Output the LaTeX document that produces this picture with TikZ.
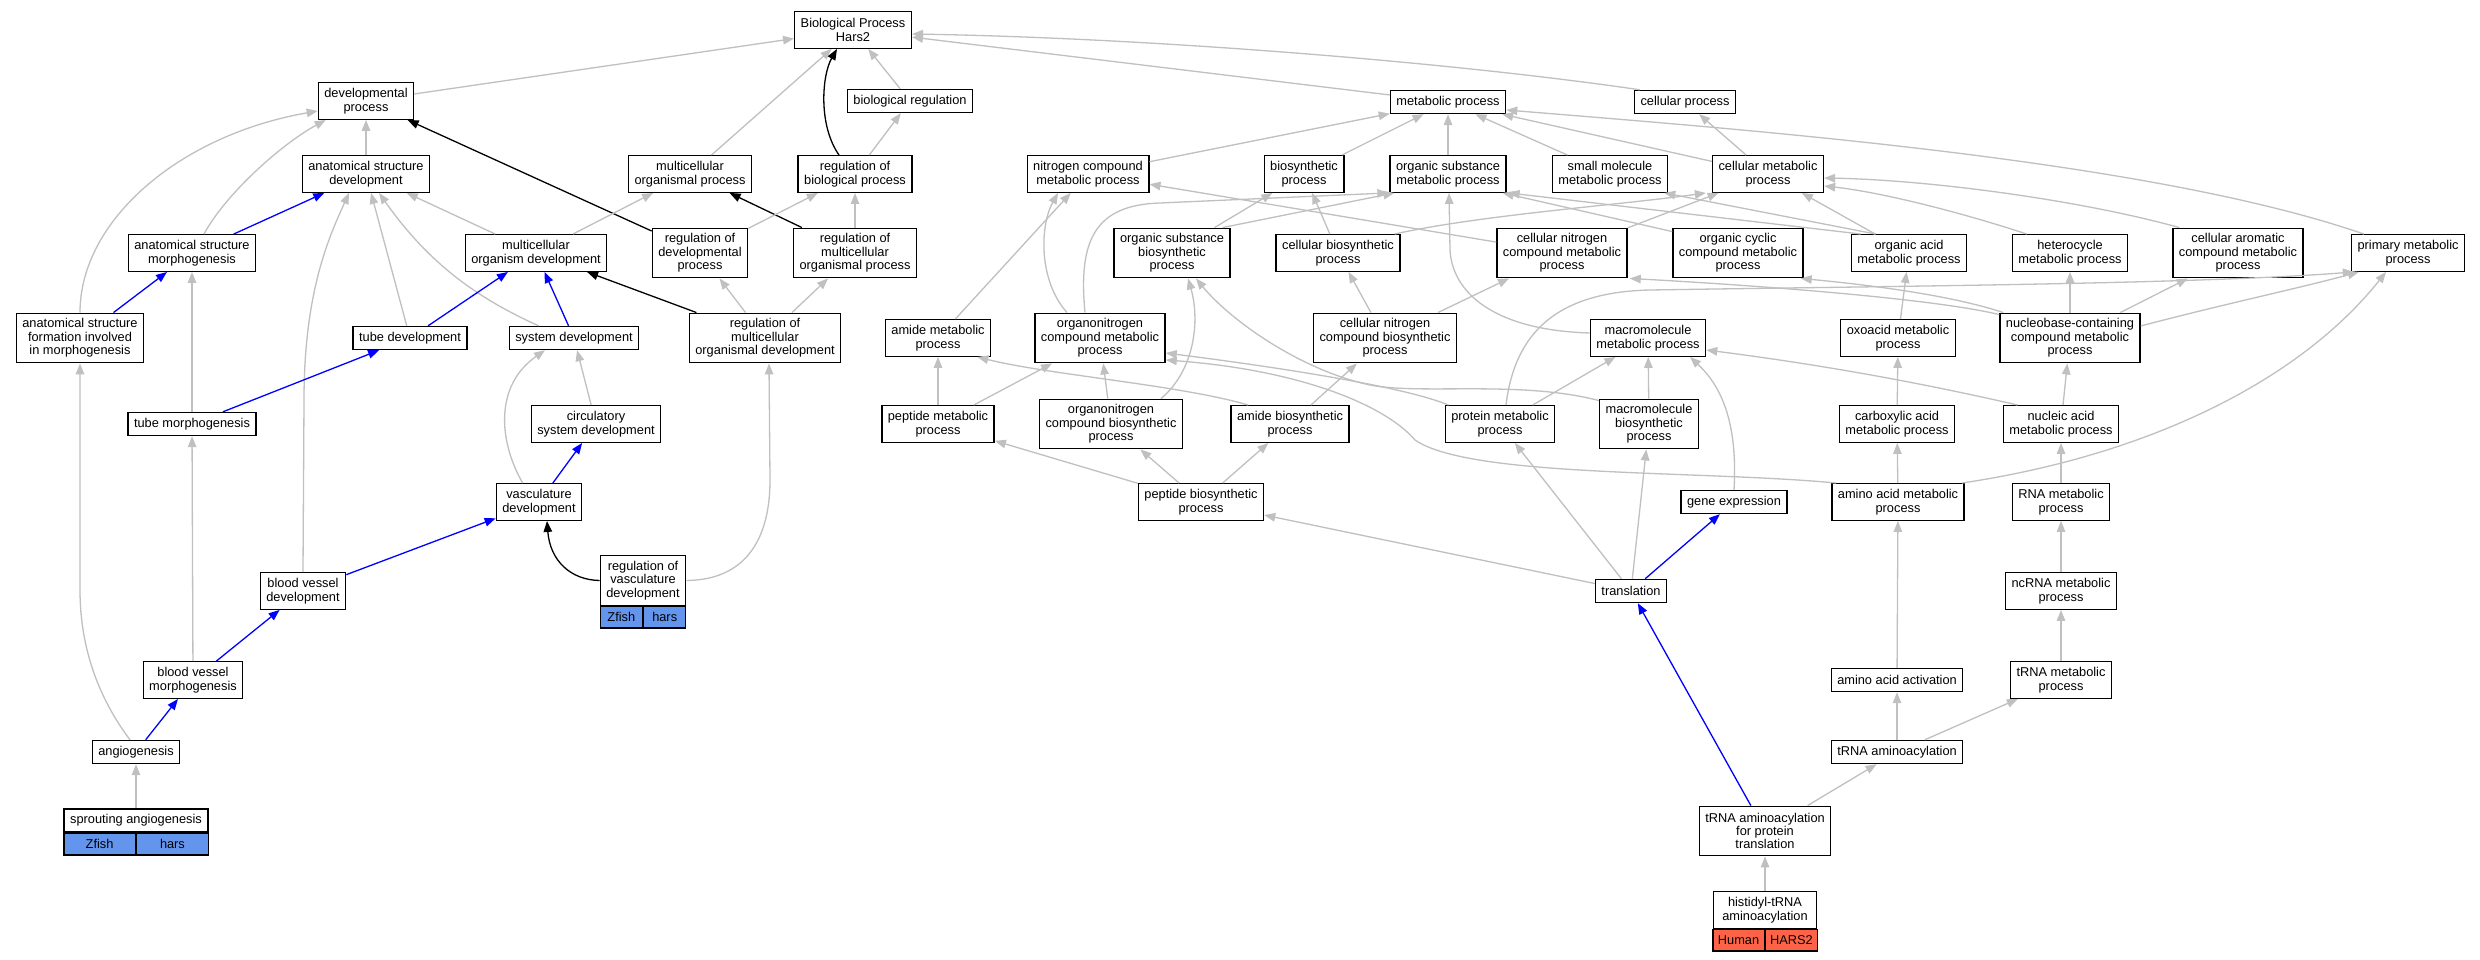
\documentclass[tikz,border=0pt]{standalone}
\usepackage{fontspec}
\setmainfont{Liberation Sans}
\usetikzlibrary{arrows.meta,calc}
\newcommand{\gvfont}{\fontsize{12.8pt}{13.4pt}\selectfont}
\definecolor{edgegray}{RGB}{192,192,192}
\definecolor{zfishc}{RGB}{100,149,237}
\definecolor{humanc}{RGB}{255,99,71}
\tikzset{
  gbox/.style={draw=black, line width=1.4pt, fill=white, inner xsep=6pt, inner ysep=2pt, align=center, font=\gvfont},
  l1/.style={gbox, minimum height=23pt},
  l2/.style={gbox, minimum height=36.5pt},
  l3/.style={gbox, minimum height=49.5pt},
  cellz/.style={draw=black, line width=1.4pt, fill=zfishc, inner sep=1pt, minimum height=21.5pt, font=\gvfont},
  cellh/.style={draw=black, line width=1.4pt, fill=humanc, inner sep=1pt, minimum height=21.5pt, font=\gvfont},
  ge/.style={draw=edgegray, line width=1.3pt, -{Triangle[length=11pt,width=8.5pt]}},
  be/.style={draw=blue, line width=1.3pt, -{Triangle[length=11pt,width=8.5pt]}},
  ke/.style={draw=black, line width=1.3pt, -{Triangle[length=11pt,width=8.5pt]}}
}
\begin{document}
\begin{tikzpicture}[x=1pt,y=-1pt]
\useasboundingbox (0,0) rectangle (2480,960);
\fill[white] (0,0) rectangle (2480,960);
% rank A
\node[l2] (bp) at (853,30) {Biological Process\\Hars2};
% rank B
\node[l2] (devp) at (366,101) {developmental\\process};
\node[l1] (breg) at (910,101) {biological regulation};
\node[l1] (metab) at (1448,102) {metabolic process};
\node[l1] (cellp) at (1685,102) {cellular process};
% rank C
\node[l2] (asd) at (366,174) {anatomical structure\\development};
\node[l2] (mop) at (690,174) {multicellular\\organismal process};
\node[l2] (rbp) at (855,174) {regulation of\\biological process};
\node[l2] (ncmp) at (1088,174) {nitrogen compound\\metabolic process};
\node[l2] (bios) at (1304,174) {biosynthetic\\process};
\node[l2] (osmp) at (1448,174) {organic substance\\metabolic process};
\node[l2] (smmp) at (1610,174) {small molecule\\metabolic process};
\node[l2] (cmp) at (1768,174) {cellular metabolic\\process};
% rank D
\node[l2] (asm) at (192,253) {anatomical structure\\morphogenesis};
\node[l2] (mod) at (536,253) {multicellular\\organism development};
\node[l3] (rdp) at (700,253) {regulation of\\developmental\\process};
\node[l3] (rmop) at (855,253) {regulation of\\multicellular\\organismal process};
\node[l3] (osbp) at (1172,253) {organic substance\\biosynthetic\\process};
\node[l2] (cbp) at (1338,253) {cellular biosynthetic\\process};
\node[l3] (cncmp) at (1562,253) {cellular nitrogen\\compound metabolic\\process};
\node[l3] (occmp) at (1738,253) {organic cyclic\\compound metabolic\\process};
\node[l2] (oamp) at (1909,253) {organic acid\\metabolic process};
\node[l2] (hetero) at (2070,253) {heterocycle\\metabolic process};
\node[l3] (arom) at (2238,253) {cellular aromatic\\compound metabolic\\process};
\node[l2] (prim) at (2408,253) {primary metabolic\\process};
% rank E
\node[l3] (asf) at (80,338) {anatomical structure\\formation involved\\in morphogenesis};
\node[l1] (tubed) at (410,338) {tube development};
\node[l1] (sysd) at (574,338) {system development};
\node[l3] (rmod) at (765,338) {regulation of\\multicellular\\organismal development};
\node[l2] (amide) at (938,338) {amide metabolic\\process};
\node[l3] (onmp) at (1100,338) {organonitrogen\\compound metabolic\\process};
\node[l3] (cncbp) at (1385,338) {cellular nitrogen\\compound biosynthetic\\process};
\node[l2] (mmp) at (1648,338) {macromolecule\\metabolic process};
\node[l2] (oxo) at (1898,338) {oxoacid metabolic\\process};
\node[l3] (nucb) at (2070,338) {nucleobase-containing\\compound metabolic\\process};
% rank F
\node[l1] (tubem) at (192,424) {tube morphogenesis};
\node[l2] (circ) at (596,424) {circulatory\\system development};
\node[l2] (pept) at (938,424) {peptide metabolic\\process};
\node[l3] (onbp) at (1111,424) {organonitrogen\\compound biosynthetic\\process};
\node[l2] (amideb) at (1290,424) {amide biosynthetic\\process};
\node[l2] (protein) at (1500,424) {protein metabolic\\process};
\node[l3] (mbp) at (1649,424) {macromolecule\\biosynthetic\\process};
\node[l2] (carbox) at (1897,424) {carboxylic acid\\metabolic process};
\node[l2] (nucac) at (2061,424) {nucleic acid\\metabolic process};
% rank G
\node[l2] (vasc) at (539,502) {vasculature\\development};
\node[l2] (pbp) at (1201,502) {peptide biosynthetic\\process};
\node[l1] (gene) at (1734,502) {gene expression};
\node[l2] (aamp) at (1898,502) {amino acid metabolic\\process};
\node[l2] (rna) at (2061,502) {RNA metabolic\\process};
% rank H
\node[l2] (bvd) at (303,591) {blood vessel\\development};
\node[l3, minimum width=84pt] (rvasc) at (643,580.5) {regulation of\\vasculature\\development};
\node[cellz, minimum width=42pt, anchor=north east] (rvascz) at (rvasc.south) {Zfish};
\node[cellz, minimum width=42pt, anchor=north west] (rvasch) at (rvasc.south) {hars};
\node[l1] (trans) at (1631,591) {translation};
\node[l2] (ncrna) at (2061,591) {ncRNA metabolic\\process};
% rank I
\node[l2] (bvm) at (193,680) {blood vessel\\morphogenesis};
\node[l1] (aaact) at (1897,680) {amino acid activation};
\node[l2] (trnam) at (2061,680) {tRNA metabolic\\process};
% rank J
\node[l1] (angio) at (136,752) {angiogenesis};
\node[l1] (trnaa) at (1897,752) {tRNA aminoacylation};
% rank K
\node[l1, minimum width=143pt] (sprout) at (136,820.5) {sprouting angiogenesis};
\node[cellz, minimum width=71.5pt, anchor=north east] (sproutz) at (sprout.south) {Zfish};
\node[cellz, minimum width=71.5pt, anchor=north west] (sprouth) at (sprout.south) {hars};
\node[l3] (trnapt) at (1765,831) {tRNA aminoacylation\\for protein\\translation};
% rank L
\node[l2, minimum width=103pt] (hist) at (1765,910) {histidyl-tRNA\\aminoacylation};
\node[cellh, minimum width=51.5pt, anchor=north east] (histh) at (hist.south) {Human};
\node[cellh, minimum width=51.5pt, anchor=north west] (histg) at (hist.south) {HARS2};

% ===== edges: development part =====
\draw[ge] (devp) -- (bp);
\draw[ge] (mop) -- (bp);
\draw[ke] ($(rbp.north)+(-16,0)$) .. controls (818,125) and (822,75) .. ($(bp.south)+(-16,0)$);
\draw[ge] (breg) -- (bp);
\draw[ge] (metab) -- (bp);
\draw[ge] ($(cellp.north west)+(6,0)$) .. controls (1450,62) and (1150,38) .. ($(bp.east)+(0,4)$);
\draw[ge] (rbp) -- (breg);
\draw[ge] (asd) -- (devp);
\draw[ge] ($(asm.north)+(12,0)$) .. controls (225,195) and (280,145) .. ($(devp.south west)+(8,0)$);
\draw[ge] (asf.north) .. controls (80,220) and (180,135) .. ($(devp.west)+(0,10)$);
\draw[ke] (rdp) -- (devp);
\draw[ge] (mod) -- (mop);
\draw[ke] (rmop) -- (mop);
\draw[ge] (rdp) -- (rbp);
\draw[ge] (rmop) -- (rbp);
\draw[be] (asm) -- (asd);
\draw[ge] (mod) -- (asd);
\draw[ge] (tubed) -- (asd);
\draw[ge] ($(sysd.north west)+(30,0)$) .. controls (470,295) and (425,258) .. ($(asd.south)+(13,0)$);
\draw[ge] (bvd.north) -- (304,400) .. controls (304,290) and (330,235) .. ($(asd.south)+(-17,0)$);
\draw[be] (asf) -- (asm);
\draw[ge] (tubem) -- (asm);
\draw[be] (tubed) -- (mod);
\draw[be] (sysd) -- (mod);
\draw[ke] (rmod) -- (mod);
\draw[ge] (rmod) -- (rdp);
\draw[ge] (rmod) -- (rmop);
\draw[be] (tubem) -- (tubed);
\draw[ge] ($(angio.north)+(-6,0)$) .. controls (100,700) and (80,650) .. (80,590) -- (asf.south);
\draw[ge] (bvm) -- (tubem);
\draw[ge] (circ) -- (sysd);
\draw[ge] ($(vasc.north west)+(27,0)$) .. controls (498,440) and (495,385) .. ($(sysd.south)+(-29,0)$);
\draw[be] (vasc) -- (circ);
\draw[be] (bvd) -- (vasc);
\draw[ke] (rvasc.west) .. controls (570,580) and (550,560) .. ($(vasc.south)+(8,0)$);
\draw[ge] (rvasc.east) .. controls (745,580) and (770,540) .. (770,480) -- ($(rmod.south)+(4,0)$);
\draw[be] (bvm) -- (bvd);
\draw[be] (angio) -- (bvm);
\draw[ge] (sprout) -- (angio);

% ===== edges: metabolic part =====
\draw[ge] (ncmp) -- (metab);
\draw[ge] (bios) -- (metab);
\draw[ge] (osmp) -- (metab);
\draw[ge] (smmp) -- (metab);
\draw[ge] (cmp) -- (metab);
\draw[ge] ($(prim.north west)+(13,0)$) .. controls (2150,160) and (1750,130) .. ($(metab.east)+(0,8)$);
\draw[ge] (cmp) -- (cellp);
\draw[ge] (amide) -- (ncmp);
\draw[ge] ($(onmp.north)+(-33,0)$) .. controls (1038,280) and (1040,225) .. ($(ncmp.south)+(-30,0)$);
\draw[ge] (cncmp) -- (ncmp);
\draw[ge] (osbp) -- (bios);
\draw[ge] (cbp) -- (bios);
\draw[ge] ($(osbp.north east)+(-8,0)$) -- ($(osmp.south west)+(5,0)$);
\draw[ge] ($(onmp.north)+(-15,0)$) .. controls (1078,240) and (1095,205) .. (1160,203) -- ($(osmp.south west)+(-1,0)$);
\draw[ge] ($(mmp.west)+(0,-5)$) .. controls (1490,330) and (1452,290) .. (1450,250) -- ($(osmp.south)+(1,0)$);
\draw[ge] ($(occmp.north west)+(0,4)$) -- ($(osmp.south east)+(-4,0)$);
\draw[ge] ($(oamp.north west)+(10,0)$) -- ($(osmp.south east)+(2,0)$);
\draw[ge] ($(oamp.north west)+(25,0)$) -- ($(smmp.south east)+(-4,0)$);
\draw[ge] ($(cbp.north east)+(-6,0)$) .. controls (1480,215) and (1620,205) .. ($(cmp.south west)+(-6,0)$);
\draw[ge] (cncmp) -- (cmp);
\draw[ge] (oamp) -- (cmp);
\draw[ge] ($(hetero.north west)+(15,0)$) .. controls (1960,212) and (1880,192) .. ($(cmp.east)+(0,12)$);
\draw[ge] ($(arom.north west)+(7,0)$) .. controls (2080,200) and (1930,180) .. ($(cmp.east)+(0,4)$);
\draw[ge] (cncbp) -- (cbp);
\draw[ge] (cncbp) -- (cncmp);
\draw[ge] ($(nucb.north west)+(0,2)$) .. controls (1930,298) and (1750,285) .. ($(cncmp.south east)+(2,0)$);
\draw[ge] ($(nucb.north west)+(4,0)$) .. controls (1950,295) and (1870,285) .. ($(occmp.south east)+(-3,0)$);
\draw[ge] (nucb) -- (hetero);
\draw[ge] (nucb) -- (arom);
\draw[ge] ($(nucb.east)+(0,-12)$) .. controls (2220,305) and (2300,288) .. ($(prim.south west)+(8,0)$);
\draw[ge] ($(protein.north)+(6,0)$) .. controls (1515,330) and (1560,292) .. (1650,290) .. controls (1900,286) and (2200,284) .. ($(prim.south west)+(3,0)$);
\draw[ge] ($(aamp.north east)+(-3,0)$) .. controls (2150,455) and (2300,380) .. ($(prim.south)+(-22,0)$);
\draw[ge] (oxo) -- (oamp);
\draw[ge] (pept) -- (amide);
\draw[ge] (pept) -- (onmp);
\draw[ge] (onbp) -- (onmp);
\draw[ge] ($(onbp.north)+(50,0)$) .. controls (1195,370) and (1200,320) .. ($(osbp.south)+(16,0)$);
\draw[ge] ($(protein.north west)+(4,0)$) .. controls (1400,385) and (1260,365) .. ($(onmp.east)+(0,15)$);
\draw[ge] ($(aamp.north west)+(5,0)$) .. controls (1700,470) and (1470,478) .. (1415,440) .. controls (1385,405) and (1300,370) .. ($(onmp.east)+(0,22)$);
\draw[ge] ($(mbp.north west)+(0,2)$) .. controls (1520,380) and (1420,395) .. (1370,385) .. controls (1300,370) and (1230,320) .. ($(osbp.south)+(24,0)$);
\draw[ge] (mbp) -- (mmp);
\draw[ge] (protein) -- (mmp);
\draw[ge] (gene.north) .. controls (1738,420) and (1720,385) .. ($(mmp.south)+(42,0)$);
\draw[ge] ($(nucac.north west)+(15,0)$) .. controls (1900,378) and (1800,362) .. ($(mmp.east)+(0,12)$);
\draw[ge] (nucac) -- (nucb);
\draw[ge] ($(amideb.north west)+(18,0)$) .. controls (1180,385) and (1050,375) .. ($(amide.south east)+(-14,0)$);
\draw[ge] (amideb) -- (cncbp);
\draw[ge] (carbox) -- (oxo);
\draw[ge] (pbp) -- (pept);
\draw[ge] (pbp) -- (onbp);
\draw[ge] (pbp) -- (amideb);
\draw[ge] (trans) -- (pbp);
\draw[ge] (trans) -- (protein);
\draw[ge] (trans) -- (mbp);
\draw[be] (trans) -- (gene);
\draw[ge] (aamp) -- (carbox);
\draw[ge] (rna) -- (nucac);
\draw[ge] (ncrna) -- (rna);
\draw[ge] (trnam) -- (ncrna);
\draw[ge] (aaact) -- (aamp);
\draw[ge] (trnaa) -- (aaact);
\draw[ge] (trnaa) -- (trnam);
\draw[ge] (trnapt) -- (trnaa);
\draw[be] (trnapt) -- (trans);
\draw[ge] (hist) -- (trnapt);
\end{tikzpicture}
\end{document}
